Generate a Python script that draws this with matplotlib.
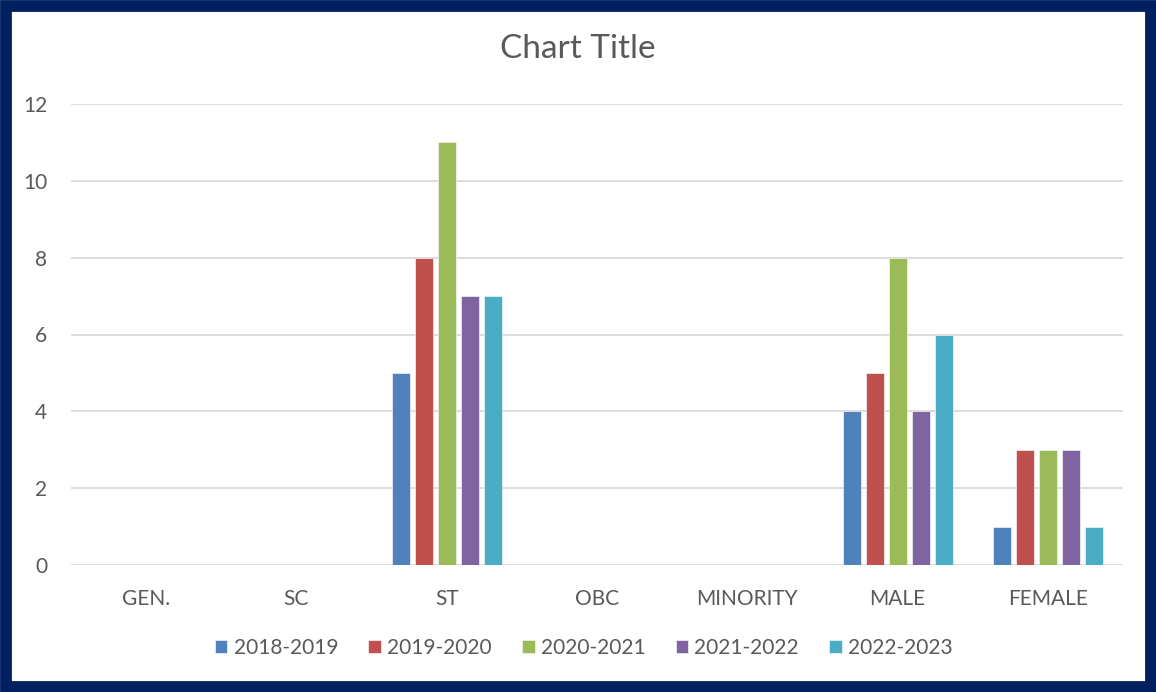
import matplotlib
matplotlib.use("Agg")
import matplotlib.pyplot as plt
import numpy as np
from matplotlib.patches import Rectangle

categories = ["GEN.", "SC", "ST", "OBC", "MINORITY", "MALE", "FEMALE"]
series_names = ["2018-2019", "2019-2020", "2020-2021", "2021-2022", "2022-2023"]
s2018 = [0, 0, 5, 0, 0, 4, 1]
s2019 = [0, 0, 8, 0, 0, 5, 3]
s2020 = [0, 0, 11, 0, 0, 8, 3]
s2021 = [0, 0, 7, 0, 0, 4, 3]
s2022 = [0, 0, 7, 0, 0, 6, 1]
series = [s2018, s2019, s2020, s2021, s2022]
colors = ["#4F81BD", "#C0504D", "#9BBB59", "#8064A2", "#4BACC6"]

plt.rcParams['font.family'] = ['Lato', 'DejaVu Sans']
fig = plt.figure(figsize=(11.56, 6.92), dpi=100)
fig.patches.append(Rectangle((5.5/1156, 5.5/692), 1 - 11/1156, 1 - 11/692,
                             transform=fig.transFigure, fill=False,
                             edgecolor="#002060", linewidth=8.5, zorder=10))
ax = fig.add_axes([71/1156, 1 - 565/692, (1123 - 71)/1156, (565 - 104)/692])

x = np.arange(len(categories))
pitch = 0.153
width = 0.12
for i, (name, vals, c) in enumerate(zip(series_names, series, colors)):
    ax.bar(x + (i - 2) * pitch, vals, width, color=c, edgecolor="#F4F4F4",
           linewidth=0.5, label=name, zorder=3)

ax.set_xlim(-0.5, len(categories) - 0.5)
ax.set_ylim(0, 12)
ax.set_yticks(range(0, 13, 2))
ax.set_xticks(x)
ax.set_xticklabels(categories)
ax.grid(axis="y", color="#D9D9D9", linewidth=1.3, zorder=0)
for s in ax.spines.values():
    s.set_visible(False)
ax.tick_params(axis="both", length=0, colors="#595959", labelsize=15)
ax.tick_params(axis="y", pad=17)
ax.tick_params(axis="x", pad=17)

fig.text(0.5, 1 - 49/692, "Chart Title", ha="center", va="center",
         fontsize=24, color="#595959")
fig.legend(loc="center", bbox_to_anchor=(0.505, 1 - 648/692), ncol=5,
           frameon=False, fontsize=15, labelcolor="#595959",
           handlelength=0.6, handleheight=0.6, handletextpad=0.3,
           columnspacing=1.45)
fig.savefig("out.png", dpi=100)
